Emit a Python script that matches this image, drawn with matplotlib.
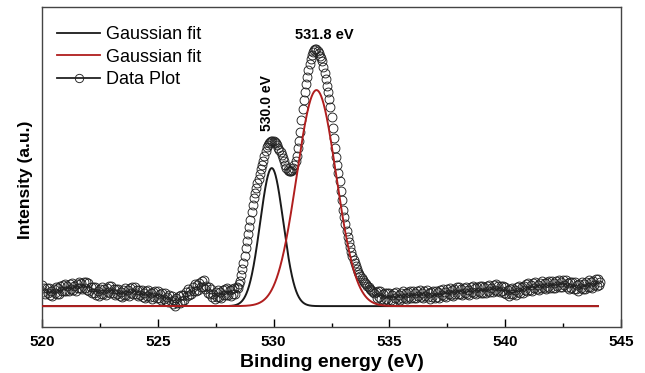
import numpy as np
import matplotlib
matplotlib.use('Agg')
import matplotlib.pyplot as plt
import matplotlib.ticker as mticker

plt.rcParams['font.family'] = ['Liberation Sans', 'DejaVu Sans']

# XPS O 1s data, 0.05 eV steps from 520.00 eV
energy_start = 520.0
energy_step = 0.05
intensity = [
    21, 14, 18, 12, 18, 13, 18, 11, 15, 10, 17, 13, 19, 12, 18, 12, 20, 15, 21, 15,  # 520
    22, 15, 20, 15, 22, 17, 23, 16, 20, 15, 22, 18, 24, 18, 23, 17, 24, 18, 24, 16,  # 521
    23, 15, 19, 13, 19, 13, 19, 11, 15, 10, 17, 12, 19, 12, 17, 11, 18, 14, 20, 13,  # 522
    20, 13, 17, 11, 17, 12, 17, 10, 14, 9, 16, 11, 18, 11, 16, 10, 18, 13, 19, 12,   # 523
    19, 12, 16, 10, 16, 11, 16, 9, 13, 8, 15, 10, 16, 9, 13, 7, 14, 9, 15, 8,        # 524
    15, 8, 12, 6, 13, 7, 13, 5, 9, 4, 11, 5, 10, 2, 6, 0, 8, 3, 10, 3,               # 525
    11, 5, 11, 6, 14, 10, 17, 11, 15, 12, 19, 15, 22, 15, 21, 16, 23, 19, 25, 19,    # 526
    26, 17, 20, 13, 19, 12, 17, 9, 12, 7, 14, 9, 16, 9, 14, 8, 16, 11, 17, 11,       # 527
    18, 11, 16, 10, 17, 12, 18, 12, 19, 18, 22, 25, 31, 37, 43, 50, 58, 65, 72, 79,  # 528
    86, 94, 101, 108, 113, 118, 123, 127, 132, 137, 141, 145, 150, 155, 159, 161, 163, 164, 165, 165,  # 529
    165, 164, 163, 161, 158, 156, 154, 151, 148, 145, 141, 138, 136, 135, 135, 135, 136, 138, 141, 145,  # 530
    150, 158, 165, 174, 186, 197, 206, 214, 222, 229, 236, 242, 247, 251, 254, 256, 257, 257, 255, 253,  # 531
    250, 248, 245, 239, 233, 227, 220, 214, 207, 199, 189, 178, 168, 158, 149, 141, 133, 125, 115, 106,  # 532
    96, 89, 82, 75, 69, 64, 59, 54, 50, 46, 43, 40, 37, 34, 32, 30, 28, 26, 24, 23,  # 533
    22, 20, 19, 17, 16, 15, 14, 13, 14, 8, 15, 9, 15, 7, 12, 6, 13, 7, 13, 6,        # 534
    13, 6, 11, 5, 13, 8, 14, 7, 11, 6, 13, 8, 15, 8, 13, 7, 14, 9, 15, 8,            # 535
    15, 8, 13, 8, 15, 10, 16, 9, 13, 8, 15, 10, 16, 9, 13, 7, 14, 9, 15, 8,          # 536
    15, 9, 14, 8, 16, 11, 17, 10, 14, 9, 17, 12, 18, 11, 16, 10, 17, 12, 19, 12,     # 537
    19, 12, 17, 11, 18, 13, 19, 12, 16, 11, 19, 14, 20, 13, 18, 12, 19, 14, 20, 13,  # 538
    20, 13, 19, 13, 20, 15, 21, 14, 18, 14, 21, 16, 22, 15, 20, 14, 20, 15, 20, 13,  # 539
    19, 12, 16, 10, 17, 12, 18, 12, 16, 11, 19, 14, 20, 13, 19, 13, 20, 16, 22, 15,  # 540
    23, 16, 21, 15, 23, 18, 24, 17, 21, 16, 23, 18, 25, 18, 23, 17, 24, 19, 25, 18,  # 541
    25, 18, 23, 18, 25, 20, 26, 19, 24, 19, 26, 21, 26, 19, 23, 17, 24, 18, 24, 17,  # 542
    24, 17, 21, 15, 22, 18, 24, 17, 22, 17, 24, 19, 26, 19, 24, 18, 25, 21, 27, 20,  # 543
    27, 21, 24,                                                                      # 544
]
energy = energy_start + energy_step * np.arange(len(intensity))

# Gaussian fit components: centre (eV), height, sigma (eV)
fit_centers = [529.92, 531.85]
fit_heights = [138, 216]
fit_sigmas = [0.50, 0.85]
fit_colors = ['#1a1a1a', '#b01e1e']
fit_range = (520.0, 544.0)

peak_labels = ['530.0 eV', '531.8 eV']

fig = plt.figure(figsize=(6.45, 3.73), dpi=100)
ax = fig.add_axes([0.065, 0.123, 0.898, 0.858])

e_fit = np.linspace(fit_range[0], fit_range[1], 2000)
for c, h, s, col in zip(fit_centers, fit_heights, fit_sigmas, fit_colors):
    ax.plot(e_fit, h * np.exp(-(e_fit - c) ** 2 / (2 * s ** 2)), color=col,
            lw=1.4, label='Gaussian fit', zorder=3)

ax.plot(energy, intensity, 'o', mfc='none', mec='#222222', mew=0.65, ms=6.4,
        label='Data Plot', zorder=2)

# peak labels
ax.text(529.72, 203, peak_labels[0], rotation=90, ha='center', va='center',
        fontsize=10, fontweight='bold')
ax.text(532.2, 271, peak_labels[1], ha='center', va='center',
        fontsize=10.5, fontweight='bold')

ax.set_xlim(520, 545)
ax.set_ylim(-21, 299)
ax.xaxis.set_major_locator(mticker.MultipleLocator(5))
ax.xaxis.set_minor_locator(mticker.MultipleLocator(2.5))
ax.tick_params(axis='x', which='major', direction='in', length=5.5, width=1,
               labelsize=11, pad=6)
ax.tick_params(axis='x', which='minor', direction='in', length=3, width=1)
ax.set_yticks([])
for lbl in ax.get_xticklabels():
    lbl.set_fontweight('bold')
for sp in ax.spines.values():
    sp.set_color('#444444')
    sp.set_linewidth(1)

ax.set_xlabel('Binding energy (eV)', fontsize=14, fontweight='bold', labelpad=3)
ax.set_ylabel('Intensity (a.u.)', fontsize=12.5, fontweight='bold')
ax.yaxis.set_label_coords(-0.016, 0.46)

leg = ax.legend(loc='upper left', frameon=False, fontsize=13, handlelength=2.4,
                handletextpad=0.33, labelspacing=0.3, borderaxespad=0,
                borderpad=0, bbox_to_anchor=(0.026, 0.94))
for line in leg.get_lines():
    line.set_linewidth(1.3)
data_handle = leg.legend_handles[2]
data_handle.set_linestyle('-')
data_handle.set_color('#222222')
data_handle.set_marker('o')
data_handle.set_markersize(6)

plt.savefig('out.png', dpi=100)
